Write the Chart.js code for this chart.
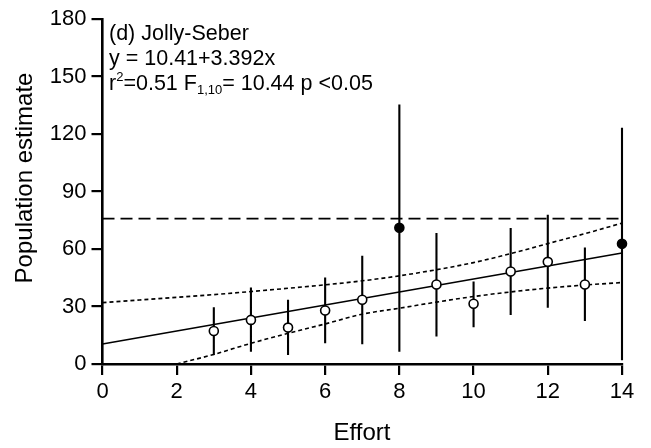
<!DOCTYPE html>
<html>
<head>
<meta charset="utf-8">
<script src="https://cdn.jsdelivr.net/npm/chart.js@4/dist/chart.umd.min.js"></script>
<style>
  html, body { margin: 0; padding: 0; background: #fff; }
  #wrap { width: 651px; height: 448px; }
</style>
</head>
<body>
<div id="wrap"><canvas id="c" width="651" height="448"></canvas></div>
<script>
// ---- data ----
const effort      = [3, 4, 5, 6, 7, 8, 9, 10, 11, 12, 13, 14];
const estimate    = [17.2, 23, 19, 27.9, 33.5, 71.1, 41.5, 31.4, 48.3, 53.3, 41.5, 62.7];
const errLow      = [4.7, 6.4, 4.7, 10.8, 10.3, 6.4, 14.3, 19.2, 25.6, 29.4, 22.5, 2];
const errHigh     = [29.6, 39.9, 33.5, 45.1, 56.5, 135.4, 68.3, 43, 70.9, 77.9, 60.8, 123.2];
const filledPoint = [false, false, false, false, false, true, false, false, false, false, false, true];

const fitX = [0, 14];
const fitY = [10.41, 57.9];

const ciUpperX = [0, 1, 2, 3, 4, 5, 6, 7, 8, 9, 10, 11, 12, 13, 14];
const ciUpperY = [32, 33.4, 34.8, 36.2, 37.8, 39.5, 41.3, 43.4, 46, 49.2, 52.9, 57.6, 62.8, 68, 73.5];
const ciLowerX = [2, 3, 4, 5, 6, 7, 8, 9, 10, 11, 12, 13, 14];
const ciLowerY = [0, 5, 10.8, 16, 20.9, 26, 29.1, 32.3, 35.2, 37.6, 39.6, 41.2, 42.5];

const refLineX = [0, 14];
const refLineY = [75.8, 75.8];

const xTicks = [0, 2, 4, 6, 8, 10, 12, 14];
const yTicks = [0, 30, 60, 90, 120, 150, 180];

const xTitle = 'Effort';
const yTitle = 'Population estimate';
const panelLabel = '(d) Jolly-Seber';
const equationText = 'y = 10.41+3.392x';

// ---- build datasets ----
const FONT = '"Liberation Sans", Arial, sans-serif';
const zip = (xs, ys) => xs.map((x, i) => ({ x: x, y: ys[i] }));

const errData = [];
effort.forEach((x, i) => {
  errData.push({ x: x, y: errLow[i] });
  errData.push({ x: x, y: errHigh[i] });
  errData.push({ x: x, y: null });
});

const lineBase = { pointRadius: 0, fill: false, tension: 0, clip: false, borderColor: '#000', showLine: true, order: 1 };

const datasets = [
  Object.assign({}, lineBase, { data: zip(refLineX, refLineY), borderWidth: 1.8, borderDash: [12, 6] }),
  Object.assign({}, lineBase, { data: zip(ciUpperX, ciUpperY), borderWidth: 1.6, borderDash: [4, 3], tension: 0.3, cubicInterpolationMode: 'monotone' }),
  Object.assign({}, lineBase, { data: zip(ciLowerX, ciLowerY), borderWidth: 1.6, borderDash: [4, 3], tension: 0.3, cubicInterpolationMode: 'monotone' }),
  Object.assign({}, lineBase, { data: zip(fitX, fitY), borderWidth: 1.6 }),
  Object.assign({}, lineBase, { data: errData, borderWidth: 2.1, spanGaps: false }),
  {
    data: zip(effort, estimate),
    order: 0,
    showLine: false,
    clip: false,
    pointRadius: 4.5,
    pointBorderWidth: 1.6,
    pointBorderColor: '#000',
    pointBackgroundColor: filledPoint.map(f => f ? '#000' : '#fff'),
    borderColor: '#000'
  }
];

// ---- text plugin (panel label, equation, axis titles) ----
const textPlugin = {
  id: 'texts',
  afterDraw(chart) {
    const ctx = chart.ctx;
    ctx.save();
    ctx.fillStyle = '#000';
    ctx.textBaseline = 'alphabetic';
    ctx.textAlign = 'left';
    const big = '21.5px ' + FONT, small = '13px ' + FONT;
    const x0 = 109;
    ctx.font = big;
    ctx.fillText(panelLabel, x0, 40);
    ctx.fillText(equationText, x0, 65);
    // r^2=0.51 F_{1,10}= 10.44 p <0.05
    let x = x0, yb = 90;
    const seg = (t, f, dy) => { ctx.font = f; ctx.fillText(t, x, yb + dy); x += ctx.measureText(t).width; };
    seg('r', big, 0);
    seg('2', small, -9);
    seg('=0.51 F', big, 0);
    seg('1,10', small, 4);
    seg('= 10.44 p <0.05', big, 0);

    // axis titles
    ctx.font = '24px ' + FONT;
    ctx.textAlign = 'center';
    ctx.textBaseline = 'middle';
    ctx.fillText(xTitle, 362, 433);
    ctx.translate(25, 178);
    ctx.rotate(-Math.PI / 2);
    ctx.fillText(yTitle, 0, 0);
    ctx.restore();
  }
};

new Chart(document.getElementById('c'), {
  type: 'line',
  data: { datasets: datasets },
  plugins: [textPlugin],
  options: {
    responsive: false,
    animation: false,
    devicePixelRatio: 1,
    layout: { padding: { top: 19, right: 29, left: 0, bottom: 0 } },
    plugins: { legend: { display: false }, tooltip: { enabled: false } },
    scales: {
      x: {
        type: 'linear',
        min: 0, max: 14,
        afterFit(s) { s.height = 84; },
        afterBuildTicks(s) { s.ticks = xTicks.map(v => ({ value: v })); },
        ticks: { color: '#000', padding: 4, font: { family: FONT, size: 22 } },
        grid: { display: true, drawOnChartArea: false, drawTicks: true, tickLength: 11, color: '#000', lineWidth: 2.2 },
        border: { display: true, color: '#000', width: 2.6 }
      },
      y: {
        type: 'linear',
        min: 0, max: 180,
        afterFit(s) { s.width = 102.5; },
        afterBuildTicks(s) { s.ticks = yTicks.map(v => ({ value: v })); },
        ticks: { color: '#000', padding: 5, font: { family: FONT, size: 22 } },
        grid: { display: true, drawOnChartArea: false, drawTicks: true, tickLength: 11, color: '#000', lineWidth: 2.2 },
        border: { display: true, color: '#000', width: 2.6 }
      }
    }
  }
});
</script>
</body>
</html>
